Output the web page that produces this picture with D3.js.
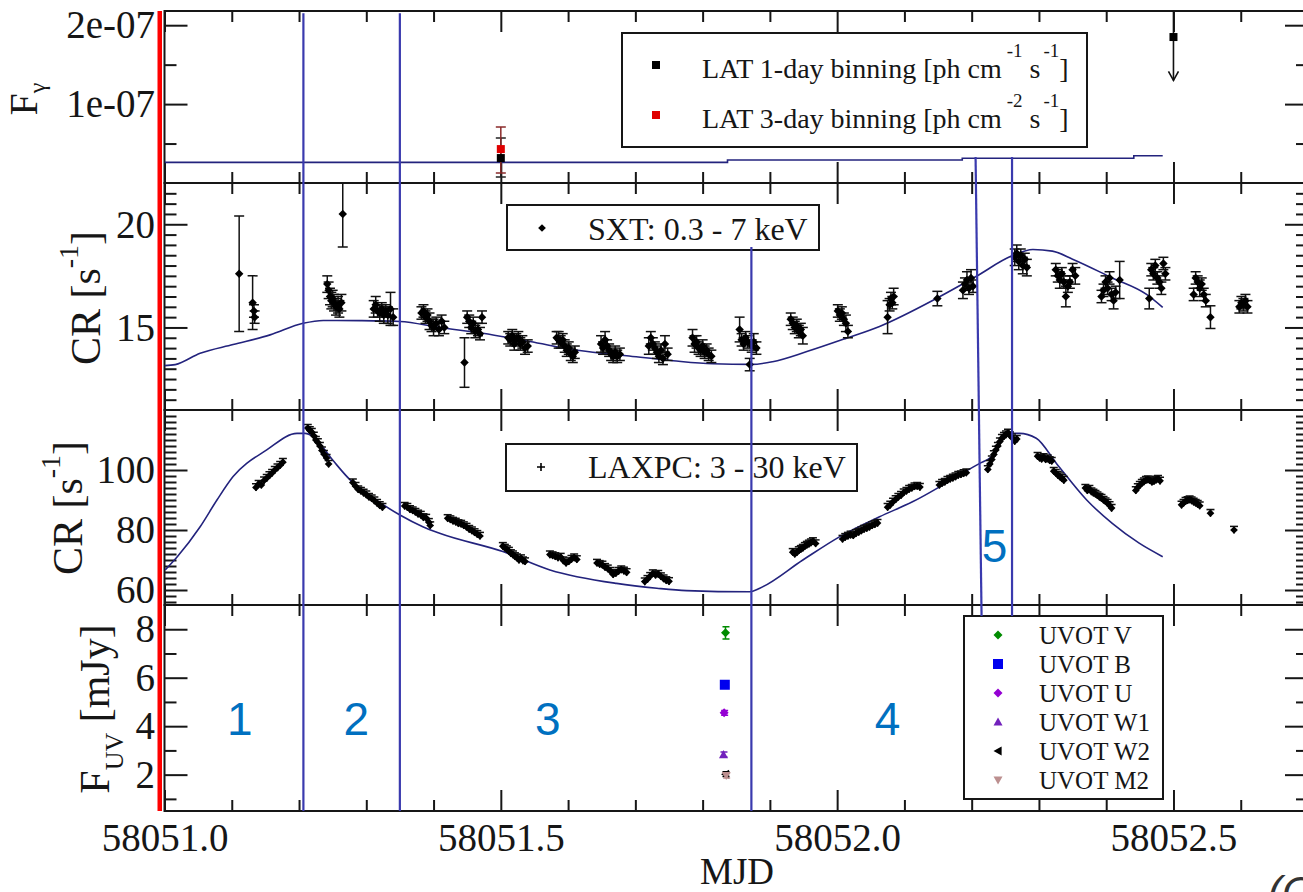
<!DOCTYPE html>
<html>
<head>
<meta charset="utf-8">
<script src="https://cdn.jsdelivr.net/npm/d3@7"></script>
<style>
  body { margin: 0; background: #fff; }
  svg { display: block; }
</style>
</head>
<body>
<script>
// ---- data ----
const xDomain = [58051.0, 58052.7];
const xMajor = [58051.0, 58051.5, 58052.0, 58052.5];
const xTickLabels = ['58051.0', '58051.5', '58052.0', '58052.5'];

// Fermi-LAT: [mjd, flux, lower, upper]
const lat1Day = [[58051.5, 3.16e-8, 0.76e-8, 5.7e-8]];
const lat3Day = [[58051.5, 4.3e-8, 1.27e-8, 7.1e-8]];
// upper limit: [mjd, flux, arrow tip]
const latUpperLimit = [[58052.5, 1.85e-7, 1.3e-7]];
const gammaModel = [
  [58051.0, 2.62e-8], [58051.837, 2.91e-8], [58052.186, 3.13e-8],
  [58052.441, 3.46e-8], [58052.484, 3.46e-8]
];

// SXT 0.3-7 keV: [mjd, rate, err]
const sxtData = [
  [58051.111, 17.6, 2.8], [58051.131, 16.2, 1.3], [58051.133, 15.8, 0.3], [58051.134, 15.5, 0.3],
  [58051.242, 17.1, 0.4], [58051.244, 16.8, 0.4], [58051.246, 16.5, 0.4], [58051.248, 16.3, 0.4],
  [58051.250, 16.4, 0.4], [58051.252, 16.2, 0.4], [58051.255, 16.0, 0.4], [58051.258, 16.1, 0.4],
  [58051.260, 15.9, 0.4], [58051.263, 16.2, 0.4], [58051.265, 20.5, 1.6],
  [58051.311, 15.9, 0.4], [58051.314, 16.1, 0.4], [58051.317, 15.8, 0.3], [58051.320, 15.7, 0.4],
  [58051.323, 15.9, 0.3], [58051.326, 15.6, 0.4], [58051.329, 15.8, 0.3], [58051.332, 15.6, 0.4],
  [58051.336, 15.9, 0.8], [58051.340, 15.5, 0.4],
  [58051.382, 15.7, 0.3], [58051.385, 15.8, 0.3], [58051.388, 15.5, 0.3], [58051.391, 15.6, 0.3],
  [58051.394, 15.3, 0.4], [58051.397, 15.1, 0.3], [58051.400, 15.0, 0.4], [58051.404, 15.2, 0.3],
  [58051.408, 14.9, 0.3], [58051.412, 15.3, 0.3], [58051.416, 15.0, 0.3],
  [58051.446, 13.3, 1.2], [58051.450, 15.5, 0.3], [58051.453, 15.3, 0.3], [58051.456, 15.0, 0.3],
  [58051.459, 15.2, 0.3], [58051.462, 14.8, 0.3], [58051.466, 14.9, 0.3], [58051.469, 14.7, 0.3],
  [58051.472, 15.5, 0.3],
  [58051.511, 14.5, 0.3], [58051.514, 14.4, 0.3], [58051.517, 14.6, 0.3], [58051.520, 14.2, 0.3],
  [58051.523, 14.4, 0.3], [58051.526, 14.5, 0.3], [58051.529, 14.2, 0.3], [58051.532, 14.3, 0.3],
  [58051.536, 14.0, 0.3], [58051.540, 14.1, 0.3],
  [58051.583, 14.5, 0.3], [58051.586, 14.4, 0.4], [58051.589, 14.3, 0.3], [58051.592, 14.4, 0.3],
  [58051.595, 14.1, 0.3], [58051.598, 13.9, 0.3], [58051.601, 14.0, 0.3], [58051.604, 13.7, 0.3],
  [58051.607, 13.6, 0.3], [58051.610, 13.8, 0.3],
  [58051.649, 14.2, 0.4], [58051.652, 14.0, 0.3], [58051.655, 14.4, 0.4], [58051.658, 14.1, 0.3],
  [58051.661, 13.9, 0.3], [58051.664, 13.7, 0.3], [58051.667, 13.6, 0.3], [58051.670, 13.8, 0.3],
  [58051.673, 13.6, 0.3], [58051.677, 13.7, 0.3],
  [58051.720, 14.1, 0.4], [58051.723, 14.5, 0.3], [58051.726, 14.2, 0.3], [58051.729, 14.0, 0.3],
  [58051.732, 13.8, 0.3], [58051.735, 13.6, 0.3], [58051.738, 13.9, 0.3], [58051.741, 13.5, 0.3],
  [58051.744, 14.2, 0.4], [58051.748, 13.7, 0.3],
  [58051.785, 14.5, 0.4], [58051.788, 14.2, 0.4], [58051.791, 14.3, 0.3], [58051.794, 14.0, 0.3],
  [58051.797, 13.9, 0.3], [58051.800, 14.1, 0.3], [58051.803, 13.8, 0.3], [58051.806, 13.9, 0.3],
  [58051.809, 13.7, 0.3], [58051.813, 13.6, 0.3],
  [58051.855, 14.9, 0.6], [58051.858, 14.4, 0.3], [58051.861, 14.2, 0.3], [58051.864, 14.5, 0.3],
  [58051.867, 14.3, 0.3], [58051.870, 13.2, 0.3], [58051.873, 14.1, 0.3], [58051.876, 14.3, 0.4],
  [58051.880, 14.0, 0.3],
  [58051.931, 15.4, 0.3], [58051.934, 15.2, 0.3], [58051.937, 15.0, 0.3], [58051.940, 15.1, 0.3],
  [58051.943, 14.8, 0.3], [58051.946, 14.9, 0.3], [58051.949, 14.6, 0.4],
  [58052.001, 15.8, 0.3], [58052.004, 15.6, 0.3], [58052.007, 15.7, 0.3], [58052.010, 15.4, 0.3],
  [58052.013, 15.2, 0.4], [58052.016, 14.8, 0.3],
  [58052.075, 15.5, 0.8], [58052.078, 16.1, 0.3], [58052.080, 16.4, 0.3], [58052.082, 16.2, 0.3],
  [58052.084, 16.5, 0.4],
  [58052.149, 16.4, 0.35],
  [58052.187, 16.8, 0.4], [58052.190, 17.1, 0.3], [58052.193, 17.3, 0.4], [58052.196, 16.9, 0.3],
  [58052.199, 17.4, 0.4], [58052.202, 17.0, 0.3],
  [58052.264, 18.4, 0.4], [58052.267, 18.6, 0.4], [58052.270, 18.2, 0.4], [58052.273, 18.5, 0.3],
  [58052.276, 18.0, 0.4], [58052.279, 18.3, 0.3], [58052.282, 17.9, 0.4],
  [58052.325, 17.8, 0.3], [58052.328, 17.5, 0.3], [58052.331, 17.3, 0.4], [58052.334, 17.6, 0.3],
  [58052.337, 17.2, 0.3], [58052.340, 16.5, 0.5], [58052.343, 17.0, 0.3], [58052.346, 17.2, 0.3],
  [58052.350, 17.8, 0.3], [58052.354, 17.5, 0.4],
  [58052.393, 16.5, 0.3], [58052.396, 16.8, 0.3], [58052.399, 17.2, 0.3], [58052.402, 16.9, 0.3],
  [58052.405, 17.4, 0.3], [58052.408, 16.6, 0.3], [58052.411, 16.3, 0.4], [58052.414, 16.7, 0.3],
  [58052.420, 17.3, 0.9],
  [58052.464, 16.4, 0.5],
  [58052.467, 17.8, 0.3], [58052.470, 17.6, 0.3], [58052.473, 18.0, 0.3], [58052.476, 17.4, 0.3],
  [58052.479, 17.2, 0.3], [58052.482, 16.9, 0.3], [58052.485, 18.1, 0.3], [58052.488, 17.6, 0.3],
  [58052.530, 16.6, 0.3], [58052.533, 17.4, 0.3], [58052.536, 17.2, 0.3], [58052.539, 16.9, 0.4],
  [58052.542, 17.1, 0.3], [58052.545, 16.6, 0.3], [58052.548, 16.3, 0.3], [58052.555, 15.5, 0.55],
  [58052.598, 16.0, 0.3], [58052.601, 16.2, 0.3], [58052.604, 16.1, 0.3], [58052.607, 16.3, 0.3],
  [58052.610, 16.0, 0.3]
];
const sxtModel = [
  [58051.000, 13.15], [58051.016, 13.2], [58051.053, 13.75], [58051.102, 14.17], [58051.157, 14.64],
  [58051.206, 15.2], [58051.236, 15.34], [58051.291, 15.33], [58051.350, 15.29], [58051.409, 15.0],
  [58051.473, 14.72], [58051.543, 14.32], [58051.617, 13.88], [58051.687, 13.63], [58051.756, 13.39],
  [58051.815, 13.24], [58051.873, 13.21], [58051.904, 13.34], [58051.955, 13.83], [58052.014, 14.48],
  [58052.063, 15.05], [58052.149, 16.43], [58052.207, 17.48], [58052.259, 18.46], [58052.291, 18.78],
  [58052.320, 18.70], [58052.350, 18.31], [58052.409, 17.4], [58052.460, 16.6], [58052.484, 15.97]
];

// LAXPC 3-30 keV: [mjd, rate]
const laxpcData = [
  [58051.136, 94.2], [58051.140, 95.3], [58051.144, 95.0], [58051.148, 96.5], [58051.152, 97.3],
  [58051.156, 98.2], [58051.160, 99.0], [58051.164, 100.0], [58051.168, 100.8], [58051.172, 101.6],
  [58051.176, 102.6],
  [58051.213, 114.0], [58051.216, 113.2], [58051.219, 112.6], [58051.222, 111.4], [58051.225, 110.0],
  [58051.228, 109.2], [58051.231, 108.0], [58051.234, 106.5], [58051.237, 105.3], [58051.241, 104.0],
  [58051.244, 102.0],
  [58051.280, 95.8], [58051.284, 94.6], [58051.288, 93.5], [58051.292, 93.0], [58051.296, 92.4],
  [58051.300, 91.8], [58051.304, 91.0], [58051.308, 90.5], [58051.312, 89.8], [58051.316, 89.0],
  [58051.320, 88.2], [58051.324, 87.6],
  [58051.357, 88.0], [58051.361, 87.6], [58051.365, 86.9], [58051.369, 86.5], [58051.373, 86.0],
  [58051.377, 85.4], [58051.381, 85.0], [58051.385, 84.2], [58051.389, 84.0], [58051.393, 82.6],
  [58051.395, 81.5],
  [58051.421, 83.9], [58051.425, 83.5], [58051.429, 83.0], [58051.433, 82.7], [58051.437, 82.2],
  [58051.441, 82.0], [58051.445, 81.5], [58051.449, 81.0], [58051.453, 80.3], [58051.457, 79.8],
  [58051.461, 79.2], [58051.465, 78.6], [58051.469, 78.0],
  [58051.503, 74.6], [58051.506, 74.0], [58051.509, 73.5], [58051.512, 73.0], [58051.515, 72.2],
  [58051.518, 71.8], [58051.521, 71.2], [58051.524, 70.8], [58051.527, 70.0], [58051.530, 70.5],
  [58051.533, 69.8], [58051.536, 69.5],
  [58051.573, 71.8], [58051.577, 71.5], [58051.581, 71.2], [58051.585, 70.8], [58051.589, 71.0],
  [58051.593, 69.8], [58051.597, 69.0], [58051.601, 69.5], [58051.605, 70.3], [58051.609, 70.8],
  [58051.613, 70.2],
  [58051.643, 69.0], [58051.647, 68.6], [58051.651, 68.4], [58051.655, 67.6], [58051.659, 67.1],
  [58051.663, 66.3], [58051.667, 65.2], [58051.671, 65.6], [58051.675, 66.3], [58051.679, 66.8],
  [58051.683, 66.4], [58051.687, 65.9],
  [58051.714, 62.8], [58051.718, 63.6], [58051.722, 64.6], [58051.726, 65.5], [58051.730, 65.0],
  [58051.734, 65.3], [58051.738, 64.5], [58051.742, 63.8], [58051.746, 63.2], [58051.750, 62.9],
  [58051.934, 72.6], [58051.937, 72.0], [58051.940, 72.5], [58051.943, 73.2], [58051.946, 73.6],
  [58051.949, 74.0], [58051.952, 74.6], [58051.955, 75.0], [58051.958, 75.4], [58051.961, 75.8],
  [58051.964, 76.2], [58051.968, 75.5],
  [58052.008, 77.0], [58052.012, 77.6], [58052.016, 78.0], [58052.020, 78.4], [58052.024, 78.2],
  [58052.028, 78.9], [58052.032, 79.3], [58052.036, 79.8], [58052.040, 80.3], [58052.044, 80.6],
  [58052.048, 81.0], [58052.052, 81.5], [58052.056, 81.9], [58052.060, 82.3],
  [58052.075, 87.6], [58052.079, 88.4], [58052.083, 89.4], [58052.087, 90.2], [58052.091, 91.0],
  [58052.095, 91.6], [58052.099, 92.5], [58052.103, 93.0], [58052.107, 93.6], [58052.111, 94.0],
  [58052.115, 94.5], [58052.119, 94.6], [58052.123, 94.3],
  [58052.152, 95.0], [58052.156, 95.6], [58052.160, 96.0], [58052.164, 96.6], [58052.168, 97.0],
  [58052.172, 97.4], [58052.176, 97.8], [58052.180, 98.3], [58052.184, 98.5], [58052.188, 98.9],
  [58052.192, 99.1],
  [58052.224, 100.2], [58052.227, 102.0], [58052.230, 103.5], [58052.233, 105.2], [58052.236, 106.7],
  [58052.239, 108.0], [58052.242, 109.5], [58052.245, 110.6], [58052.248, 111.3], [58052.251, 111.8],
  [58052.254, 112.4], [58052.257, 111.5], [58052.260, 110.8], [58052.264, 109.6], [58052.267, 110.3],
  [58052.298, 104.6], [58052.301, 104.0], [58052.304, 103.7], [58052.307, 104.2], [58052.310, 103.5],
  [58052.313, 103.8], [58052.316, 103.2], [58052.319, 103.0], [58052.322, 99.6], [58052.325, 99.0],
  [58052.328, 98.3], [58052.331, 97.8], [58052.334, 97.2], [58052.337, 96.6],
  [58052.369, 94.0], [58052.372, 93.2], [58052.375, 93.6], [58052.378, 92.8], [58052.381, 92.4],
  [58052.384, 92.0], [58052.387, 91.5], [58052.390, 91.0], [58052.393, 90.6], [58052.396, 90.0],
  [58052.399, 89.5], [58052.402, 89.0], [58052.405, 88.2], [58052.408, 87.3],
  [58052.444, 93.2], [58052.447, 94.2], [58052.450, 95.0], [58052.453, 95.6], [58052.456, 96.1],
  [58052.459, 96.6], [58052.462, 96.8], [58052.465, 96.5], [58052.468, 96.0], [58052.471, 96.3],
  [58052.474, 96.7], [58052.477, 97.0], [58052.480, 96.4],
  [58052.512, 88.4], [58052.515, 89.0], [58052.518, 89.6], [58052.521, 89.9], [58052.524, 90.1],
  [58052.527, 89.8], [58052.530, 89.4], [58052.533, 89.0], [58052.536, 88.6], [58052.539, 88.1],
  [58052.555, 85.6], [58052.590, 80.0]
];
const laxpcModel = [
  [58051.001, 66.7], [58051.019, 71.1], [58051.053, 81.1], [58051.078, 90.0], [58051.102, 97.8],
  [58051.152, 106.7], [58051.197, 112.2], [58051.209, 112.2], [58051.221, 111.1], [58051.250, 103.3],
  [58051.276, 96.7], [58051.301, 92.2], [58051.350, 85.0], [58051.384, 81.1], [58051.409, 78.9],
  [58051.503, 72.8], [58051.573, 66.7], [58051.672, 62.2], [58051.732, 60.6], [58051.776, 59.8],
  [58051.870, 59.4], [58051.885, 60.6], [58051.949, 70.0], [58052.004, 77.8], [58052.063, 84.4],
  [58052.112, 89.4], [58052.212, 102.2], [58052.227, 104.0], [58052.253, 112.2], [58052.271, 112.2],
  [58052.296, 110.6], [58052.326, 102.2], [58052.371, 90.0], [58052.409, 82.2], [58052.449, 75.6],
  [58052.484, 71.1]
];

// Swift-UVOT
const uvotBands = ['UVOT V', 'UVOT B', 'UVOT U', 'UVOT W1', 'UVOT W2', 'UVOT M2'];
const uvotMjd = [58051.834, 58051.833, 58051.832, 58051.831, 58051.834, 58051.835];
const uvotFlux = [7.85, 5.71, 4.55, 2.83, 2.02, 1.96];
const uvotErr = [0.25, 0.1, 0.1, 0.1, 0.1, 0.1];

// region separators and labels
const regionNames = ['1', '2', '3', '4', '5'];
const regionMjd = [58051.112, 58051.285, 58051.570, 58052.075, 58052.234];

// ---- drawing ----
const W = 1303, H = 892;
const serif = '"Liberation Serif", "Times New Roman", serif';
const sans = '"Liberation Sans", Arial, sans-serif';
const ink = '#161616';
const dividerColor = '#3a3aae';
const modelColor = '#23237d';
const uvotColors = ['#008b00', '#0000ee', '#9400d3', '#7221bc', '#000000', '#bc8f8f'];
const uvotShapes = ['diamond', 'square', 'diamond', 'up', 'left', 'down'];

const svg = d3.select('body').append('svg')
  .attr('width', W)
  .attr('height', H)
  .style('font-family', serif);

const x = d3.scaleLinear().domain(xDomain).range([164.5, 1308]);
const [x0, x1] = x.range();

const panels = {
  gamma: { top: 11, bottom: 183, domain: [0, 2.18e-7], major: [1e-7, 2e-7], labels: ['1e-07', '2e-07'], minor: [0.5e-7, 1.5e-7] },
  sxt: { top: 183, bottom: 410, domain: [11, 22], major: [15, 20], labels: ['15', '20'], minor: d3.range(11.5, 22, 0.5).filter(v => v % 5) },
  laxpc: { top: 410, bottom: 605, domain: [55, 120], major: [60, 80, 100], labels: ['60', '80', '100'], minor: d3.range(56, 120, 2).filter(v => v % 20) },
  uv: { top: 605, bottom: 811, domain: [0.5, 9], major: [2, 4, 6, 8], labels: ['2', '4', '6', '8'], minor: [1, 3, 5, 7] },
};
Object.entries(panels).forEach(([k, p]) => {
  p.y = d3.scaleLinear().domain(p.domain).range([p.bottom, p.top]);
  svg.append('clipPath').attr('id', `clip-${k}`)
    .append('rect').attr('x', x0).attr('y', p.top).attr('width', x1 - x0).attr('height', p.bottom - p.top);
});

const xMinor = d3.range(1, 17).filter(i => i % 5).map(i => 58051 + i / 10);

// red bar left of the frame
svg.append('rect')
  .attr('x', 157.5).attr('y', 11).attr('width', 4.5).attr('height', 800)
  .attr('fill', '#ff0000');

function drawAxes(p) {
  const g = svg.append('g').attr('color', ink);
  const ticks = (axis, tx, ty, vals, len) => g.append('g')
    .attr('transform', `translate(${tx},${ty})`)
    .call(axis.tickValues(vals).tickSize(len).tickFormat(''))
    .call(s => s.select('.domain').remove())
    .call(s => s.selectAll('line').attr('stroke-width', 2));
  ticks(d3.axisRight(p.y), x0, 0, p.minor, 12);
  ticks(d3.axisRight(p.y), x0, 0, p.major, 23);
  ticks(d3.axisLeft(p.y), x1, 0, p.minor, 12);
  ticks(d3.axisLeft(p.y), x1, 0, p.major, 23);
  ticks(d3.axisBottom(x), 0, p.top, xMinor, 11);
  ticks(d3.axisBottom(x), 0, p.top, xMajor, 21);
  ticks(d3.axisTop(x), 0, p.bottom, xMinor, 11);
  ticks(d3.axisTop(x), 0, p.bottom, xMajor, 21);
  g.append('rect')
    .attr('x', x0).attr('y', p.top)
    .attr('width', x1 - x0).attr('height', p.bottom - p.top)
    .attr('fill', 'none').attr('stroke', ink).attr('stroke-width', 2);
  g.selectAll('text.ylab')
    .data(p.major)
    .join('text')
    .attr('class', 'ylab')
    .attr('x', 155)
    .attr('y', d => p.y(d))
    .attr('dy', '0.34em')
    .attr('text-anchor', 'end')
    .style('font-size', '39px')
    .attr('fill', ink)
    .text((d, i) => p.labels[i]);
}
Object.values(panels).forEach(drawAxes);

// x tick labels + title
svg.append('g')
  .attr('transform', `translate(0,${panels.uv.bottom})`)
  .call(d3.axisBottom(x).tickValues(xMajor).tickSize(0).tickPadding(12)
    .tickFormat((d, i) => xTickLabels[i]))
  .call(s => s.select('.domain').remove())
  .call(s => s.selectAll('text').style('font-size', '39px').style('font-family', serif).attr('fill', ink));

svg.append('text')
  .attr('x', 737).attr('y', 884)
  .attr('text-anchor', 'middle')
  .style('font-size', '37px')
  .attr('fill', ink)
  .text('MJD');

// y titles
function yTitle(tx, ty, parts) {
  const t = svg.append('text')
    .attr('transform', `translate(${tx},${ty}) rotate(-90)`)
    .attr('text-anchor', 'middle')
    .style('font-size', '42px')
    .attr('fill', ink);
  parts.forEach(([s, dy, size]) => t.append('tspan').attr('dy', dy).style('font-size', size).text(s));
}
yTitle(37, 99, [['F', 0, '40px'], ['γ', 8, '24px']]);
yTitle(100, 298, [['CR [s', 0, '42px'], ['-1', -22, '28px'], [']', 22, '42px']]);
yTitle(82, 508, [['CR [s', 0, '42px'], ['-1', -22, '28px'], [']', 22, '42px']]);
yTitle(109, 709, [['F', 0, '42px'], ['UV', 14, '26px'], [' [mJy]', -14, '42px']]);

const sym = (type, size) => d3.symbol(type, size)();

// ---- panel 1: gamma ----
{
  const p = panels.gamma;
  const g = svg.append('g').attr('clip-path', 'url(#clip-gamma)');
  g.append('path')
    .datum(gammaModel)
    .attr('d', d3.line().x(d => x(d[0])).y(d => p.y(d[1])).curve(d3.curveStepAfter))
    .attr('fill', 'none').attr('stroke', modelColor).attr('stroke-width', 1.6);

  const errBars = (data, color) => {
    data.forEach(d => {
      const cx = x(d[0]);
      g.append('line').attr('x1', cx).attr('x2', cx).attr('y1', p.y(d[2])).attr('y2', p.y(d[3]))
        .attr('stroke', color).attr('stroke-width', 1.5);
      [d[2], d[3]].forEach(v => g.append('line')
        .attr('x1', cx - 5).attr('x2', cx + 5).attr('y1', p.y(v)).attr('y2', p.y(v))
        .attr('stroke', color).attr('stroke-width', 1.5));
    });
  };
  errBars(lat1Day, '#222');
  errBars(lat3Day, '#8a2a2a');
  g.selectAll('rect.l1').data(lat1Day).join('rect')
    .attr('x', d => x(d[0]) - 4).attr('y', d => p.y(d[1]) - 4)
    .attr('width', 8).attr('height', 8).attr('fill', '#000');
  g.selectAll('rect.l3').data(lat3Day).join('rect')
    .attr('x', d => x(d[0]) - 4).attr('y', d => p.y(d[1]) - 4)
    .attr('width', 8).attr('height', 8).attr('fill', '#e00000');

  latUpperLimit.forEach(d => {
    const cx = x(d[0]);
    g.append('line').attr('x1', cx).attr('x2', cx).attr('y1', p.top).attr('y2', p.y(d[2]))
      .attr('stroke', '#111').attr('stroke-width', 1.6);
    g.append('path')
      .attr('d', `M${cx - 5},${p.y(d[2]) - 9}L${cx},${p.y(d[2])}L${cx + 5},${p.y(d[2]) - 9}`)
      .attr('fill', 'none').attr('stroke', '#111').attr('stroke-width', 1.6);
    g.append('rect').attr('x', cx - 4).attr('y', p.y(d[1]) - 4).attr('width', 8).attr('height', 8).attr('fill', '#000');
  });

  // legend
  const lg = svg.append('g');
  lg.append('rect').attr('x', 622).attr('y', 33).attr('width', 465).attr('height', 114)
    .attr('fill', '#fff').attr('stroke', ink).attr('stroke-width', 2);
  [['-1', '#000', 78, 'LAT 1-day binning [ph cm'], ['-2', '#e00000', 128, 'LAT 3-day binning [ph cm']]
    .forEach(([exp, col, base, label]) => {
      lg.append('rect').attr('x', 652).attr('y', base - 17).attr('width', 8).attr('height', 8).attr('fill', col);
      const t = lg.append('text').attr('x', 702).attr('y', base).style('font-size', '28px').attr('fill', ink);
      t.append('tspan').text(label);
      t.append('tspan').attr('dx', 5).attr('dy', -21).style('font-size', '19px').text(exp);
      t.append('tspan').attr('dy', 21).style('font-size', '28px').text(' s');
      t.append('tspan').attr('dx', 3).attr('dy', -21).style('font-size', '19px').text('-1');
      t.append('tspan').attr('dy', 21).style('font-size', '28px').text(']');
    });
}

// ---- panel 2: SXT ----
{
  const p = panels.sxt;
  const g = svg.append('g').attr('clip-path', 'url(#clip-sxt)');
  g.append('path')
    .datum(sxtModel)
    .attr('d', d3.line().x(d => x(d[0])).y(d => p.y(d[1])).curve(d3.curveMonotoneX))
    .attr('fill', 'none').attr('stroke', modelColor).attr('stroke-width', 1.6);
  g.selectAll('line.err').data(sxtData).join('line')
    .attr('x1', d => x(d[0])).attr('x2', d => x(d[0]))
    .attr('y1', d => p.y(d[1] - d[2])).attr('y2', d => p.y(d[1] + d[2]))
    .attr('stroke', '#111').attr('stroke-width', 1.5);
  ['lo', 'hi'].forEach(k => g.selectAll(`line.cap${k}`).data(sxtData).join('line')
    .attr('x1', d => x(d[0]) - 5).attr('x2', d => x(d[0]) + 5)
    .attr('y1', d => p.y(k === 'lo' ? d[1] - d[2] : d[1] + d[2]))
    .attr('y2', d => p.y(k === 'lo' ? d[1] - d[2] : d[1] + d[2]))
    .attr('stroke', '#111').attr('stroke-width', 1.5));
  g.selectAll('path.pt').data(sxtData).join('path')
    .attr('d', sym(d3.symbolSquare, 36))
    .attr('transform', d => `translate(${x(d[0])},${p.y(d[1])}) rotate(45)`)
    .attr('fill', '#000');

  const lg = svg.append('g');
  lg.append('rect').attr('x', 507).attr('y', 205).attr('width', 312).attr('height', 45)
    .attr('fill', '#fff').attr('stroke', ink).attr('stroke-width', 2);
  lg.append('path').attr('d', sym(d3.symbolSquare, 30)).attr('transform', 'translate(542,228) rotate(45)').attr('fill', '#000');
  lg.append('text').attr('x', 588).attr('y', 240).style('font-size', '32px').attr('fill', ink)
    .text('SXT: 0.3 - 7 keV');
}

// ---- panel 3: LAXPC ----
{
  const p = panels.laxpc;
  const g = svg.append('g').attr('clip-path', 'url(#clip-laxpc)');
  g.append('path')
    .datum(laxpcModel)
    .attr('d', d3.line().x(d => x(d[0])).y(d => p.y(d[1])).curve(d3.curveMonotoneX))
    .attr('fill', 'none').attr('stroke', modelColor).attr('stroke-width', 1.6);
  g.selectAll('line.err').data(laxpcData).join('line')
    .attr('x1', d => x(d[0])).attr('x2', d => x(d[0]))
    .attr('y1', d => p.y(d[1] - 1.2)).attr('y2', d => p.y(d[1] + 1.2))
    .attr('stroke', '#111').attr('stroke-width', 1.5);
  g.selectAll('line.cap').data(laxpcData).join('line')
    .attr('x1', d => x(d[0]) - 4).attr('x2', d => x(d[0]) + 4)
    .attr('y1', d => p.y(d[1] + 1.2)).attr('y2', d => p.y(d[1] + 1.2))
    .attr('stroke', '#111').attr('stroke-width', 1.5);
  g.selectAll('path.pt').data(laxpcData).join('path')
    .attr('d', sym(d3.symbolSquare, 30))
    .attr('transform', d => `translate(${x(d[0])},${p.y(d[1])}) rotate(45)`)
    .attr('fill', '#000');

  const lg = svg.append('g');
  lg.append('rect').attr('x', 506).attr('y', 444).attr('width', 351).attr('height', 47)
    .attr('fill', '#fff').attr('stroke', ink).attr('stroke-width', 2);
  lg.append('path').attr('d', 'M537,467H545M541,463V471').attr('stroke', '#000').attr('stroke-width', 1.6);
  lg.append('text').attr('x', 588).attr('y', 478).style('font-size', '32px').attr('fill', ink)
    .text('LAXPC: 3 - 30 keV');
}

// ---- panel 4: UVOT ----
function marker(g, shape, cx, cy, color, s) {
  let d;
  if (shape === 'square') d = `M${cx - s},${cy - s}h${2 * s}v${2 * s}h${-2 * s}Z`;
  else if (shape === 'diamond') d = `M${cx},${cy - s}L${cx + s},${cy}L${cx},${cy + s}L${cx - s},${cy}Z`;
  else if (shape === 'up') d = `M${cx},${cy - s}L${cx + s},${cy + s * 0.8}L${cx - s},${cy + s * 0.8}Z`;
  else if (shape === 'down') d = `M${cx},${cy + s}L${cx + s},${cy - s * 0.8}L${cx - s},${cy - s * 0.8}Z`;
  else d = `M${cx - s},${cy}L${cx + s * 0.8},${cy - s}L${cx + s * 0.8},${cy + s}Z`;
  g.append('path').attr('d', d).attr('fill', color);
}
{
  const p = panels.uv;
  const g = svg.append('g').attr('clip-path', 'url(#clip-uv)');
  const order = [4, 5, 3, 2, 1, 0];
  order.forEach(i => {
    const cx = x(uvotMjd[i]), cy = p.y(uvotFlux[i]);
    const lo = p.y(uvotFlux[i] - uvotErr[i]), hi = p.y(uvotFlux[i] + uvotErr[i]);
    g.append('path').attr('d', `M${cx},${lo}V${hi}M${cx - 3},${lo}H${cx + 4}M${cx - 3},${hi}H${cx + 4}`)
      .attr('stroke', uvotColors[i]).attr('stroke-width', 1.5);
    marker(g, uvotShapes[i], cx, cy, uvotColors[i], i === 1 ? 5 : 4.5);
  });

  const lg = svg.append('g');
  lg.append('rect').attr('x', 964).attr('y', 616).attr('width', 199).attr('height', 183)
    .attr('fill', '#fff').attr('stroke', ink).attr('stroke-width', 2);
  uvotBands.forEach((b, i) => {
    const cy = 635 + i * 29;
    marker(lg, uvotShapes[i], 998, cy, uvotColors[i], i === 1 ? 5 : 4.5);
    lg.append('text').attr('x', 1039).attr('y', cy + 9).style('font-size', '25px').attr('fill', ink).text(b);
  });
}

// ---- region separators ----
{
  const gp = panels.gamma, sp = panels.sxt, up = panels.uv;
  const seps = [
    [58051.2065, gp.y(2.15e-7), 58051.2065, up.y(0.5)],
    [58051.3499, gp.y(2.15e-7), 58051.3499, up.y(0.5)],
    [58051.8725, sp.y(18.9), 58051.8725, up.y(0.5)],
    [58052.2058, gp.y(3.3e-8), 58052.2147, up.y(8.55)],
    [58052.2600, gp.y(3.3e-8), 58052.2600, up.y(8.55)],
  ];
  svg.append('g').selectAll('line').data(seps).join('line')
    .attr('x1', d => x(d[0])).attr('y1', d => d[1])
    .attr('x2', d => x(d[2])).attr('y2', d => d[3])
    .attr('stroke', dividerColor).attr('stroke-width', 2.2);

  const labelY = [up.y(3.65), up.y(3.65), up.y(3.65), up.y(3.65), panels.laxpc.y(69.3)];
  svg.append('g').selectAll('text').data(regionNames).join('text')
    .attr('x', (d, i) => x(regionMjd[i]))
    .attr('y', (d, i) => labelY[i])
    .attr('text-anchor', 'middle')
    .style('font-family', sans)
    .style('font-size', '46px')
    .attr('fill', '#0070c0')
    .text(d => d);
}

// partly cropped caption at bottom right
svg.append('text')
  .attr('x', 1268).attr('y', 906)
  .style('font-family', sans).style('font-style', 'italic').style('font-size', '42px')
  .attr('fill', '#333')
  .text('(C)');
</script>
</body>
</html>
